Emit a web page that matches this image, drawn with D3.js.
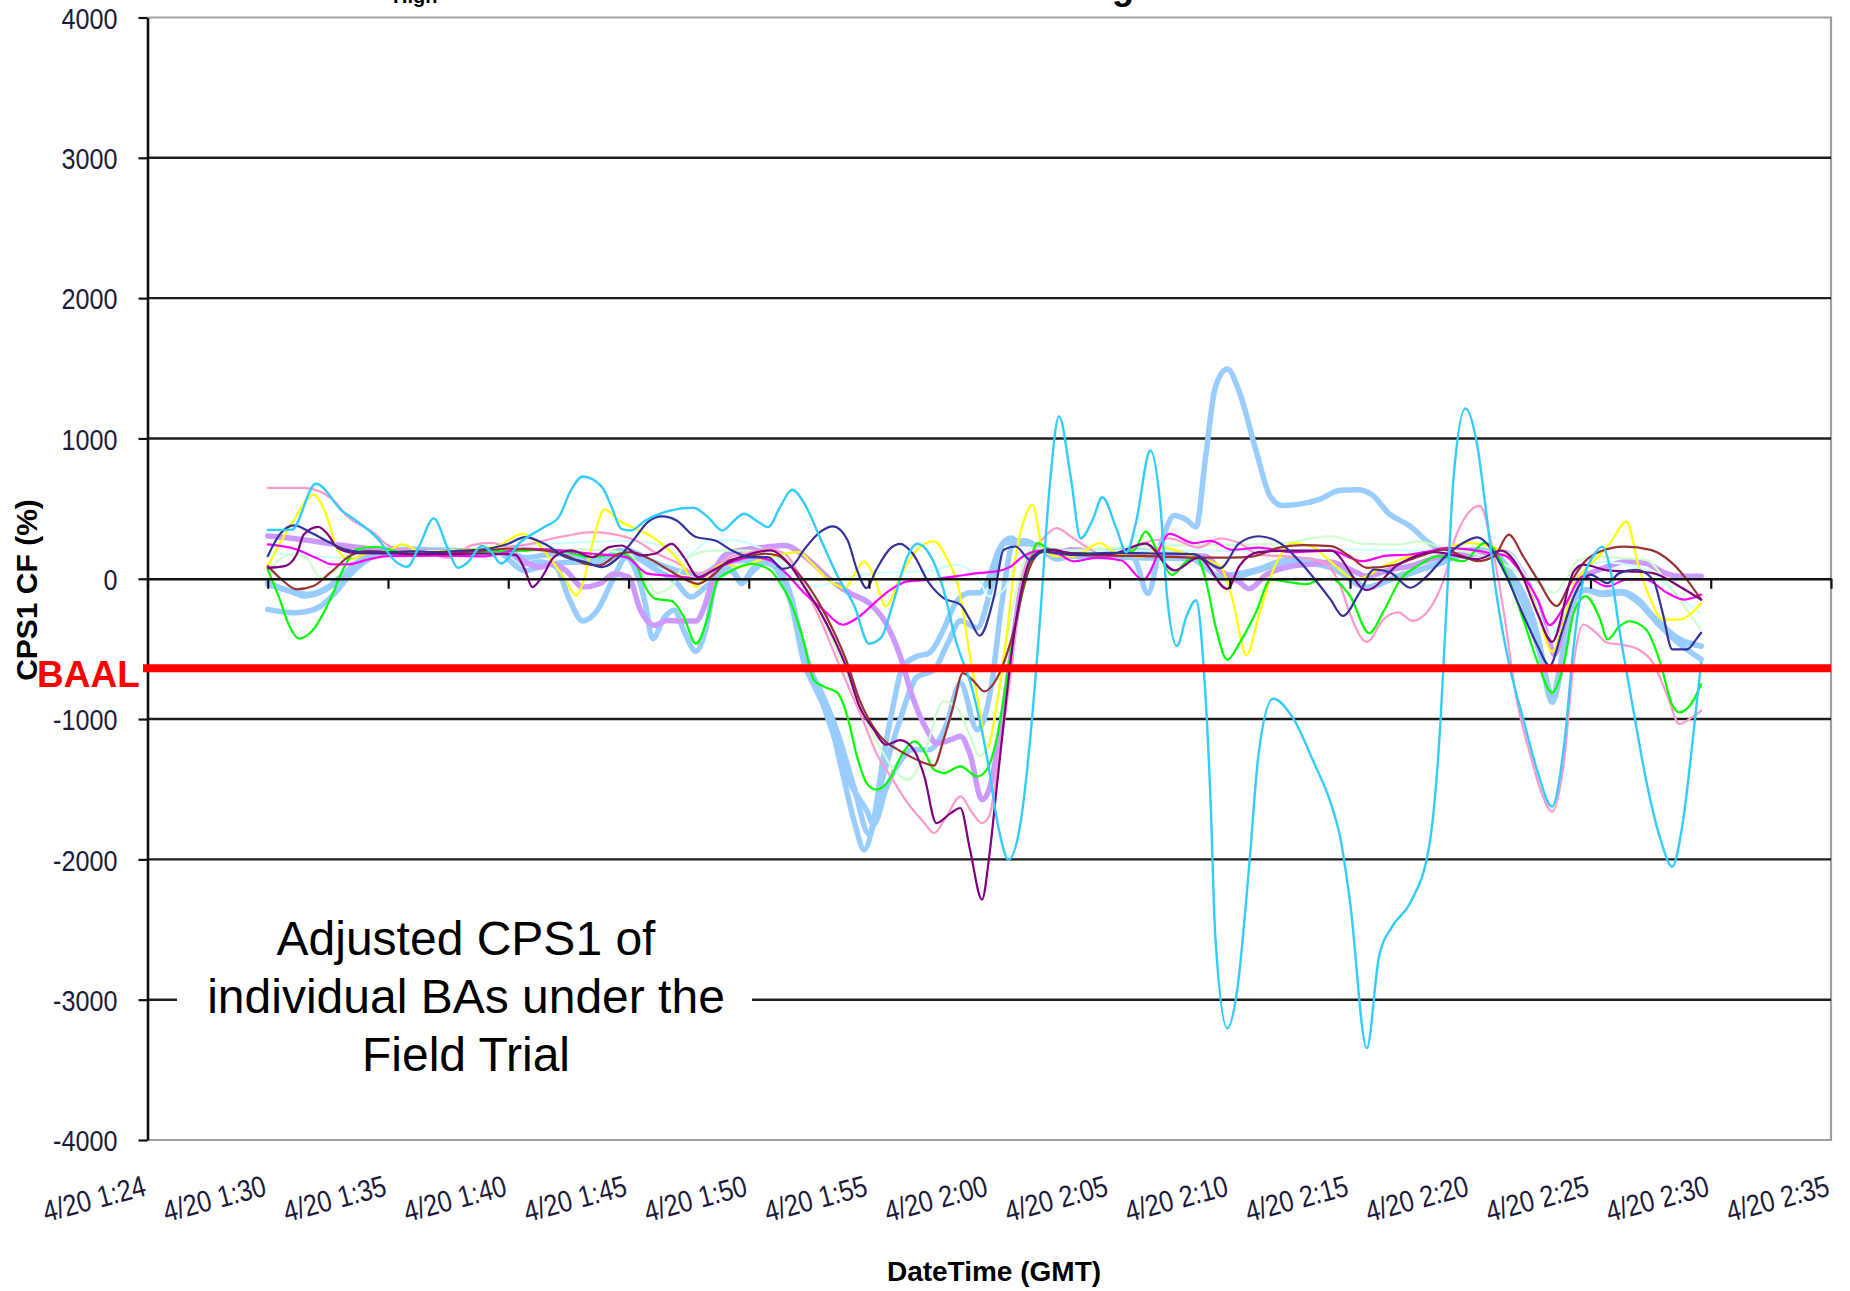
<!DOCTYPE html>
<html><head><meta charset="utf-8">
<script src="https://cdnjs.cloudflare.com/ajax/libs/d3/7.8.5/d3.min.js"></script>
<style>body{margin:0;background:#fff}svg{display:block}</style>
</head><body><svg id="c" width="1850" height="1291"></svg>
<script>
// ---------- data ----------
const xTickMinutes = [85,90,95,100,105,110,115,120,125,130,135,140,145,150,155];
const xTickLabels = ["4/20 1:24","4/20 1:30","4/20 1:35","4/20 1:40","4/20 1:45","4/20 1:50","4/20 1:55","4/20 2:00","4/20 2:05","4/20 2:10","4/20 2:15","4/20 2:20","4/20 2:25","4/20 2:30","4/20 2:35"];
const yTicks = [4000,3000,2000,1000,0,-1000,-2000,-3000,-4000];
const baal = -637;
const yTitle = "CPS1 CF (%)";
const xTitle = "DateTime (GMT)";
const noteLines = ["Adjusted CPS1 of","individual BAs under the","Field Trial"];

// [minute of day, CPS1 CF %]
const skyBlue = [[90,347],[91,350],[92,677],[93.1,482],[93.6,423],[94.6,280],[95.3,126],[95.8,85],[96.3,233],[96.9,430],[97.5,209],[97.9,78],[98.3,114],[98.9,233],[99.3,190],[99.7,109],[100.5,260],[101.5,368],[102.1,439],[102.6,629],[103.1,729],[103.9,653],[104.3,510],[104.7,356],[105.1,344],[105.7,415],[106.5,475],[107.7,506],[108.3,439],[108.9,344],[109.4,415],[109.8,463],[110.4,404],[110.8,368],[111.3,510],[111.8,634],[112.3,540],[113,278],[113.7,17],[114.4,-197],[115,-463],[115.5,-420],[116,-173],[116.6,159],[117,249],[117.5,180],[118.1,-78],[118.6,-435],[119.3,-791],[119.9,-1266],[120.4,-1788],[120.8,-2002],[121.3,-1741],[121.7,-1147],[122.1,-316],[122.5,634],[122.9,1157],[123.4,711],[123.8,287],[124.3,420],[124.7,581],[125.3,352],[125.7,189],[126.1,400],[126.7,914],[127.1,548],[127.4,-137],[127.8,-480],[128.2,-268],[128.6,-153],[128.9,-594],[129.2,-1573],[129.4,-2552],[129.9,-3204],[130.3,-2943],[130.8,-2062],[131.2,-1246],[131.8,-855],[132.6,-985],[133.5,-1312],[134.2,-1600],[134.6,-1849],[135,-2300],[135.7,-3345],[136.2,-2700],[136.75,-2479],[137.5,-2311],[138.3,-1896],[138.7,-1187],[139,-241],[139.3,704],[139.8,1213],[140.3,941],[140.7,421],[141.1,-123],[141.6,-596],[142.2,-998],[142.8,-1376],[143.4,-1624],[143.9,-1189],[144.3,-480],[144.7,-7],[145.1,158],[145.5,229],[145.8,87],[146.2,-362],[146.8,-953],[147.3,-1425],[147.9,-1851],[148.4,-2052],[148.8,-1780],[149.3,-1071],[149.6,-598]];
const yellow = [[90,90],[90.6,280],[91.1,423],[91.9,600],[92.4,470],[92.9,209],[93.4,138],[94.1,180],[95,200],[95.6,245],[96.4,190],[97.5,200],[98.5,210],[99.5,230],[100.6,320],[101.1,273],[101.8,130],[102.4,-12],[102.8,-119],[103.1,-36],[103.5,249],[104,494],[104.6,415],[105.3,356],[106,297],[106.7,202],[107.3,83],[107.8,-59],[108.2,12],[109,107],[109.6,83],[110.4,130],[111.5,180],[112.1,190],[112.6,112],[113.5,-31],[114,-66],[114.5,64],[114.8,124],[115.2,20],[115.7,-197],[116.3,17],[117,207],[117.7,266],[118.2,159],[118.8,-126],[119.2,-553],[119.6,-933],[119.9,-1218],[120.3,-910],[120.7,-435],[121.1,159],[121.5,444],[121.8,527],[122.2,230],[122.8,160],[123.5,160],[124.6,254],[125.2,190],[126.4,156],[127.2,222],[128.5,156],[129.6,91],[130.1,-137],[130.7,-545],[131.2,-268],[131.8,59],[132.6,254],[133.5,222],[134.2,120],[135.3,-5],[136.4,90],[137.5,161],[138.7,208],[140,255],[140.7,232],[141.5,184],[142.1,42],[142.8,-241],[143.4,-520],[143.9,-300],[144.3,-50],[144.7,50],[145.2,135],[145.8,250],[146.5,407],[147,87],[147.5,-150],[148,-291],[148.7,-291],[149.3,-230],[149.6,-173]];
const navy = [[90,161],[90.5,316],[91.1,380],[91.8,328],[92.6,256],[93.2,209],[94,190],[95,190],[96,195],[97,190],[98,200],[99,210],[100,250],[100.7,297],[101.5,249],[102.4,154],[103.2,119],[103.9,83],[104.6,154],[105.3,297],[105.8,404],[106.4,444],[107,415],[107.8,297],[108.6,273],[109.3,202],[110.1,154],[110.8,154],[111.4,70],[111.8,90],[112.3,207],[113,337],[113.5,373],[114.1,278],[114.5,64],[114.9,-66],[115.3,64],[115.9,218],[116.3,249],[116.8,183],[117.5,-31],[118.1,-138],[118.8,-185],[119.2,-292],[119.6,-406],[120.2,-126],[120.6,207],[121.1,230],[121.7,135],[122.2,195],[122.8,183],[123.5,170],[125,185],[127,180],[128.5,175],[129.6,75],[130.4,254],[131.2,303],[132.1,254],[132.9,124],[133.7,-39],[134.2,-150],[134.7,-265],[135.4,-99],[136,66],[136.7,42],[137.5,-64],[138.2,19],[138.9,149],[139.7,255],[140.3,295],[140.9,208],[141.5,19],[142.1,-217],[142.8,-477],[143.3,-620],[143.8,-385],[144.3,-130],[144.7,-7],[145,30],[145.7,-31],[146.2,40],[146.9,64],[147.6,-7],[148,-243],[148.4,-504],[149,-504],[149.4,-430],[149.6,-385]];
const magenta = [[90,245],[91.2,209],[92,150],[92.7,102],[93.3,102],[94.2,138],[95,161],[97,165],[99,160],[100.7,214],[102.1,202],[103.5,178],[104.9,154],[105.8,36],[106.5,24],[107.3,12],[107.9,0],[108.5,59],[109.3,119],[110.1,154],[110.9,131],[111.6,30],[112.3,-100],[113.1,-221],[113.9,-328],[114.6,-268],[115.3,-161],[115.9,-78],[116.6,-19],[117.5,-7],[118.6,17],[119.5,40],[120.3,52],[120.9,88],[121.4,159],[122,195],[122.8,183],[123.5,124],[124.5,150],[125.5,130],[126.4,-7],[127.5,320],[128.5,254],[129.2,270],[130.1,206],[131.2,222],[132.6,189],[134.2,200],[135.5,125],[136.5,165],[137.5,173],[138.3,196],[139,220],[140,208],[140.8,184],[141.5,161],[141.9,90],[142.8,-147],[143.3,-330],[143.9,-200],[144.7,17],[145.7,-55],[146.5,-7],[147.3,-7],[148.2,-102],[148.9,-149],[149.6,-113]];
const darkRed = [[90,90],[90.5,7],[91.2,-76],[91.9,-52],[92.6,43],[93.4,161],[94.1,197],[95,190],[96,175],[97,180],[98,190],[99,200],[100,215],[101.5,202],[102.4,166],[103.2,107],[103.8,95],[104.6,178],[105.1,190],[106,131],[106.7,59],[107.3,0],[107.9,-36],[108.5,24],[109.2,131],[109.8,154],[110.7,178],[111.2,166],[111.7,100],[112.3,-10],[113,-197],[113.5,-363],[114.1,-601],[114.6,-862],[115,-1005],[115.6,-1147],[116.2,-1218],[116.7,-1266],[117.3,-1313],[117.7,-1332],[118.1,-1147],[118.5,-910],[118.9,-672],[119.3,-720],[119.8,-803],[120.2,-743],[120.7,-553],[121.1,-316],[121.4,-78],[121.7,88],[122.1,183],[122.7,207],[123.5,170],[125,165],[127,160],[128.5,150],[130,150],[131,160],[132,220],[133,240],[134.2,232],[135,160],[135.7,78],[136.9,100],[137.9,161],[138.9,208],[139.7,160],[140.3,125],[141,160],[141.6,314],[142.2,160],[142.8,-5],[143.6,-194],[144.1,-50],[144.7,111],[145.4,194],[146.4,229],[147.5,206],[148.4,111],[148.9,17],[149.6,-149]];
const purple = [[90,78],[90.7,90],[91.2,173],[91.5,316],[92.1,370],[92.5,316],[92.9,221],[93.6,185],[95,180],[97,175],[99,180],[100.3,170],[100.7,60],[101,-59],[101.4,12],[101.9,154],[102.6,202],[103.5,154],[104.2,225],[104.7,237],[105.5,166],[106.1,178],[106.8,249],[107.3,154],[107.9,12],[108.5,59],[109.3,131],[110.1,178],[110.9,202],[111.7,100],[112.3,-55],[113,-245],[113.5,-411],[114.1,-650],[114.6,-910],[115.2,-1076],[115.7,-1183],[116.3,-1150],[116.9,-1230],[117.3,-1408],[117.8,-1741],[118.4,-1670],[118.8,-1634],[119.2,-1931],[119.7,-2287],[120,-1978],[120.3,-1503],[120.6,-1028],[121,-435],[121.4,-31],[121.8,159],[122.4,207],[123.4,183],[125,175],[126.5,250],[127.7,60],[128.7,150],[129.9,-72],[130.4,90],[131.2,190],[132.5,200],[134.2,200],[135.7,-80],[137,100],[138.5,190],[140.3,140],[141.3,200],[142,80],[142.8,-250],[143.4,-450],[144.3,50],[144.7,100],[145.7,60],[146.9,50],[147.6,40],[148.7,-55],[149.6,-149]];
const rose = [[90,648],[91.5,648],[92.7,565],[93.3,446],[94.4,328],[95,237],[95.5,210],[96.5,195],[97.5,150],[98.5,240],[99.3,256],[100,230],[101,250],[101.5,273],[102.5,309],[103.5,332],[104.3,320],[105.3,273],[106.2,178],[107.1,107],[107.8,36],[108.5,71],[109.2,154],[109.9,178],[110.7,214],[111.5,178],[112,60],[112.5,-120],[113,-300],[113.5,-506],[114.2,-791],[114.8,-1028],[115.3,-1242],[115.9,-1408],[116.6,-1598],[117.3,-1741],[117.7,-1812],[118.2,-1700],[118.8,-1551],[119.3,-1670],[119.7,-1741],[120,-1690],[120.4,-1266],[120.9,-672],[121.3,-78],[121.7,159],[122.2,278],[122.8,361],[123.4,300],[123.8,254],[125,156],[126.4,254],[127.5,287],[128.7,222],[129.6,287],[130.4,254],[131.2,172],[132.6,156],[133.8,124],[134.6,-50],[135,-250],[135.7,-450],[136.4,-288],[137,-240],[137.6,-300],[138.3,-217],[138.9,-5],[139.4,303],[140.4,520],[140.9,232],[141.4,-241],[141.9,-832],[142.5,-1258],[143,-1541],[143.4,-1660],[143.9,-1300],[144.3,-600],[144.7,-326],[145.2,-380],[145.7,-456],[146.3,-470],[147,-504],[147.6,-600],[148.2,-834],[148.7,-1035],[149.2,-990],[149.6,-941]];
const green = [[90,66],[90.5,-147],[90.9,-337],[91.3,-427],[91.9,-361],[92.6,-147],[93.2,90],[93.7,209],[94.5,228],[95.5,190],[96.5,180],[97.5,170],[98.5,185],[99.5,195],[100.5,200],[101.5,210],[102.1,202],[103.5,154],[104.7,178],[105.3,107],[105.7,-59],[106.1,-142],[106.8,-159],[107.3,-273],[107.8,-463],[108.3,-273],[108.7,-12],[109.3,59],[110.1,107],[110.9,59],[111.3,-30],[111.7,-150],[112.3,-458],[112.7,-720],[113.1,-767],[113.7,-815],[114.1,-981],[114.5,-1266],[114.9,-1456],[115.3,-1503],[115.9,-1420],[116.4,-1242],[116.9,-1159],[117.3,-1230],[117.7,-1361],[118.1,-1385],[118.8,-1337],[119.5,-1408],[119.9,-1360],[120.3,-1147],[120.7,-743],[121.1,-316],[121.6,40],[122,254],[122.5,210],[123.4,183],[125,180],[126,200],[126.5,336],[127.1,156],[127.6,26],[128.2,124],[128.6,156],[129,-7],[129.4,-333],[129.9,-578],[130.4,-460],[131.1,-235],[131.7,-7],[132.4,-23],[133.2,-39],[133.7,-7],[134.2,0],[135,-123],[135.8,-388],[136.4,-230],[137.1,-5],[137.8,90],[138.7,161],[139.7,125],[140.6,255],[141.1,184],[141.6,-5],[142.2,-288],[142.8,-596],[143.4,-811],[143.9,-600],[144.3,-244],[144.8,-125],[145.4,-290],[145.7,-433],[146.2,-340],[146.6,-303],[147.3,-360],[147.9,-598],[148.4,-900],[148.7,-953],[149.3,-860],[149.6,-752]];
const paleGreen = [[90,55],[91,173],[91.6,150],[92.2,7],[92.8,55],[93.5,180],[95,190],[97,195],[99,195],[101,200],[103,210],[105,180],[105.7,0],[106.2,-100],[106.8,-50],[107.5,150],[108.5,200],[110,200],[111,170],[112,50],[113,-250],[114,-650],[114.6,-900],[115.3,-1150],[116,-1350],[116.6,-1432],[117.2,-1300],[118.1,-874],[118.7,-930],[119.2,-1120],[119.6,-1266],[120.1,-1100],[120.6,-553],[121.2,-31],[121.8,220],[123,200],[126,230],[129,240],[132,250],[134.2,303],[135.5,250],[137,243],[137.8,267],[138.9,220],[140,184],[141,137],[141.8,66],[142.6,-5],[143.5,-100],[144,0],[144.5,135],[145.2,158],[146.3,147],[147.3,135],[148.1,-7],[148.7,-149],[149.6,-362]];
const paleCyan = [[90,185],[91,173],[93,150],[94,175],[96,190],[98,200],[100,210],[101,240],[103,260],[105,270],[106.3,240],[107.3,154],[108.4,273],[109.4,273],[110.4,225],[111.2,150],[111.7,17],[112.8,-55],[113.8,-7],[115.2,40],[117,52],[117.8,64],[118.6,100],[119.5,17],[120,-126],[120.6,-78],[121.1,112],[121.7,183],[123,190],[126,200],[130,200],[134,210],[138,200],[141.5,190],[142.6,-100],[143.3,-406],[144.1,-170],[144.7,50],[145.5,120],[146.5,100],[147.5,50],[148.5,-100],[149.6,-250]];
const lavender = [[90,304],[91.4,280],[92.8,245],[94.2,214],[95.6,197],[97,190],[98.5,190],[100,185],[100.7,120],[101.3,83],[101.8,107],[102.4,59],[103.1,-59],[103.8,-36],[104.4,36],[105,12],[105.5,-225],[106.1,-332],[106.6,-297],[107.2,-301],[107.8,-301],[108.2,-178],[108.6,59],[109.1,178],[109.8,207],[110.7,225],[111.5,237],[112.5,135],[113.4,-7],[114.2,-102],[115,-173],[115.7,-316],[116.3,-553],[116.8,-838],[117.4,-1076],[117.8,-1171],[118.4,-1147],[118.8,-1123],[119.2,-1250],[119.7,-1575],[120,-1500],[120.4,-1147],[120.9,-553],[121.3,-78],[121.7,159],[122.2,207],[122.8,183],[123.4,207],[125,180],[127,170],[129,160],[129.6,59],[130.4,-23],[130.8,-72],[131.5,26],[132.6,91],[133.7,108],[134.2,120],[135,66],[135.7,19],[136.7,66],[137.5,90],[138.3,137],[139.1,173],[140,184],[140.7,173],[141.5,184],[142.1,66],[142.8,-194],[143.3,-454],[143.5,-540],[144,-250],[144.6,17],[145,40],[145.7,87],[146.5,123],[147.3,111],[148.1,40],[148.7,17],[149.6,17]];
const paleBlueA = [[90,-28],[91.1,-100],[91.5,-123],[92.3,-88],[93,-5],[93.9,114],[94.8,197],[96,210],[97,205],[98,200],[99,195],[100,190],[100.7,107],[101.3,119],[102,83],[102.5,-130],[103.1,-301],[103.7,-225],[104.4,12],[104.9,154],[105.3,59],[105.7,-178],[106,-427],[106.5,-273],[106.9,-225],[107.3,-368],[107.8,-517],[108.2,-368],[108.6,-36],[109,83],[109.4,36],[109.7,-36],[110.1,59],[110.7,131],[111.2,59],[111.8,-202],[112.3,-600],[112.8,-791],[113.4,-1028],[113.9,-1385],[114.4,-1741],[114.8,-1931],[115.2,-1717],[115.6,-1266],[116,-910],[116.4,-625],[117,-553],[117.5,-530],[118.1,-363],[118.6,-173],[119.2,-100],[119.6,-100],[120,17],[120.4,207],[120.9,290],[121.3,250],[121.7,250],[122.2,207],[122.8,140],[123.4,160],[126,150],[129,140],[129.9,26],[131,60],[132.6,140],[134.2,102],[135,19],[135.7,-64],[136.7,-5],[137.6,42],[138.6,113],[139.4,184],[140.3,208],[141,184],[141.6,66],[142.2,-146],[142.8,-406],[143.4,-834],[143.9,-480],[144.4,-125],[144.8,-78],[145.5,-102],[146.3,-90],[147,-150],[147.7,-291],[148.4,-400],[149,-456],[149.6,-480]];
const paleBlueB = [[90,-218],[91.1,-242],[91.5,-237],[92.2,-195],[92.8,-100],[93.5,43],[94.4,161],[95,190],[96.5,200],[98,200],[99.5,195],[100.7,59],[101.8,107],[102.9,119],[103.7,107],[104.6,202],[105.3,154],[106.2,59],[106.9,-12],[107.6,-130],[108.2,-59],[108.7,12],[109.3,59],[109.7,-24],[110.2,59],[110.7,119],[111.2,59],[111.8,-178],[112.3,-500],[113,-850],[113.6,-1150],[114.2,-1450],[114.9,-1650],[115.2,-1750],[115.7,-1500],[116.3,-1300],[116.8,-1218],[117.5,-1218],[118.2,-1050],[118.8,-743],[119.5,-1076],[120.1,-750],[120.5,-200],[121,250],[121.5,270],[122,230],[123,170],[124,190],[126,200],[128,180],[129.9,0],[131,50],[132.6,120],[134.2,80],[135.7,-60],[137,20],[138.6,100],[140.3,200],[141.6,60],[142.8,-400],[143.4,-880],[144.3,-150],[144.8,-80],[145.5,-110],[146.3,-100],[147,-170],[147.8,-320],[148.6,-450],[149.6,-574]];
const paleBlueC = [[90,-40],[91,-90],[91.7,-110],[92.5,-60],[93.2,40],[94,150],[95,200],[96,205],[98,200],[100,190],[100.7,150],[102,180],[103,150],[104,130],[105,200],[106,120],[107,60],[108,30],[109,120],[110,130],[111,100],[111.8,-150],[112.3,-550],[113,-800],[113.7,-1100],[114.4,-1500],[115,-1820],[115.6,-1400],[116.3,-1000],[117,-700],[117.7,-650],[118.3,-450],[118.8,-300],[119.5,-350],[120.1,-50],[120.6,250],[121.2,270],[122,230],[122.6,200],[123.4,190],[124,170],[125,190],[126,150],[126.6,-104],[127.1,222],[127.7,450],[128.2,420],[128.6,369],[129,874],[129.4,1364],[129.9,1494],[130.4,1331],[131.1,907],[131.7,581],[132.2,522],[132.9,532],[133.7,564],[134.6,630],[135.3,634],[135.9,600],[136.6,468],[137.5,374],[138.3,255],[139,184],[139.7,161],[140.3,184],[140.8,200],[141.3,137],[141.9,-60],[142.5,-312],[143,-596],[143.4,-832],[143.9,-500],[144.4,-130],[144.8,-80],[145.5,-110],[146.3,-100],[147,-170],[147.8,-300],[148.6,-420],[149.6,-480]];

// ---------- styles (drawing order) ----------
const seriesList = [
  {d: paleBlueA, c: "#99CCFF", w: 5.5},
  {d: paleBlueB, c: "#99CCFF", w: 5.5},
  {d: paleBlueC, c: "#99CCFF", w: 5.5},
  {d: lavender,  c: "#CC99FF", w: 5.5},
  {d: paleCyan,  c: "#CCFFFF", w: 2.2},
  {d: paleGreen, c: "#CCFFCC", w: 2.2},
  {d: rose,      c: "#FF99CC", w: 2.2},
  {d: yellow,    c: "#FFFF00", w: 2.2},
  {d: green,     c: "#00FF00", w: 2.2},
  {d: magenta,   c: "#FF00FF", w: 2.2},
  {d: darkRed,   c: "#993333", w: 2.2},
  {d: purple,    c: "#800080", w: 2.2},
  {d: navy,      c: "#333399", w: 2.2},
  {d: skyBlue,   c: "#33CCFF", w: 2.4}
];

const FONT = "'Liberation Sans', Arial, Helvetica, sans-serif";
const svg = d3.select("#c");
const x = d3.scaleLinear().domain([85,155]).range([147.5,1831]);
const y = d3.scaleLinear().domain([-4000,4000]).range([1140,17.5]);

// plot border (grey)
svg.append("path")
  .attr("d", `M${x(85)},${y(4000)}H${x(155)}V${y(-4000)}H${x(85)}`)
  .attr("fill","none").attr("stroke","#a0a0a0").attr("stroke-width",2.2);

// gridlines
svg.append("g").selectAll("line").data(yTicks.filter(v => v!==4000 && v!==-4000 && v!==0)).join("line")
  .attr("x1", x(85)).attr("x2", x(155)).attr("y1", d=>y(d)).attr("y2", d=>y(d))
  .attr("stroke","#1e1e1e").attr("stroke-width",2.4);

// y axis
const yAx = svg.append("g").attr("transform",`translate(${x(85)},0)`)
  .call(d3.axisLeft(y).tickValues(yTicks).tickSize(9).tickSizeOuter(0).tickFormat(d=>d));
yAx.select(".domain").attr("stroke","#111").attr("stroke-width",2.6);
yAx.selectAll(".tick line").attr("stroke","#111").attr("stroke-width",2.2);
yAx.selectAll(".tick text")
  .attr("x",0).attr("dy","0.36em")
  .attr("transform","translate(-30,0) scale(0.84,1)")
  .attr("font-family",FONT).attr("font-size",30).attr("fill","#1d1a3a").attr("text-anchor","end");

// series lines
const line = d3.line().x(d=>x(d[0])).y(d=>y(d[1])).curve(d3.curveMonotoneX);
svg.append("g").selectAll("path").data(seriesList).join("path")
  .attr("d", s=>line(s.d)).attr("fill","none")
  .attr("stroke", s=>s.c).attr("stroke-width", s=>s.w)
  .attr("stroke-linejoin","round").attr("stroke-linecap","round");

// x axis on zero line
const xAx = svg.append("g").attr("transform",`translate(0,${y(0)})`)
  .call(d3.axisBottom(x).tickValues(xTickMinutes).tickSize(10).tickSizeOuter(0).tickFormat(""));
xAx.select(".domain").attr("stroke","#111").attr("stroke-width",2.6);
xAx.selectAll(".tick line").attr("stroke","#111").attr("stroke-width",2.2);

// x tick labels (rotated, below plot)
svg.append("g").selectAll("text").data(xTickMinutes).join("text")
  .attr("transform", (d)=>`translate(${x(d)},1195) rotate(-15) scale(0.84,1)`)
  .attr("text-anchor","end").attr("font-family",FONT).attr("font-size",30).attr("fill","#1d1a3a")
  .text((d,i)=>xTickLabels[i]);

// BAAL line + label
svg.append("line").attr("x1",143).attr("x2",x(155)).attr("y1",y(baal)).attr("y2",y(baal))
  .attr("stroke","#FF0000").attr("stroke-width",8);

// axis titles
svg.append("text").attr("transform","translate(37,590) rotate(-90)")
  .attr("text-anchor","middle").attr("font-family",FONT).attr("font-weight","bold")
  .attr("font-size",30).attr("fill","#000").text(yTitle);
svg.append("text").attr("x",37).attr("y",687).attr("font-family",FONT).attr("font-weight","bold")
  .attr("font-size",37).attr("fill","#FF0000").text("BAAL");
svg.append("text").attr("x",994).attr("y",1281).attr("text-anchor","middle")
  .attr("font-family",FONT).attr("font-weight","bold").attr("font-size",28)
  .attr("fill","#000").text(xTitle);

// title fragments cut off at the top edge (as in the source image)
svg.append("text").attr("x",393).attr("y",3).attr("font-family",FONT).attr("font-weight","bold")
  .attr("font-size",20).attr("fill","#000").text("High");
svg.append("text").attr("x",1112).attr("y",-1).attr("font-family",FONT).attr("font-weight","bold")
  .attr("font-size",36).attr("fill","#000").text("g");

// annotation box
svg.append("rect").attr("x",177).attr("y",905).attr("width",575).attr("height",185).attr("fill","#fff");
svg.append("g").selectAll("text").data(noteLines).join("text")
  .attr("x",466).attr("y",(d,i)=>955+i*58).attr("text-anchor","middle")
  .attr("font-family",FONT).attr("font-size",48).attr("fill","#000").text(d=>d);
</script></body></html>
